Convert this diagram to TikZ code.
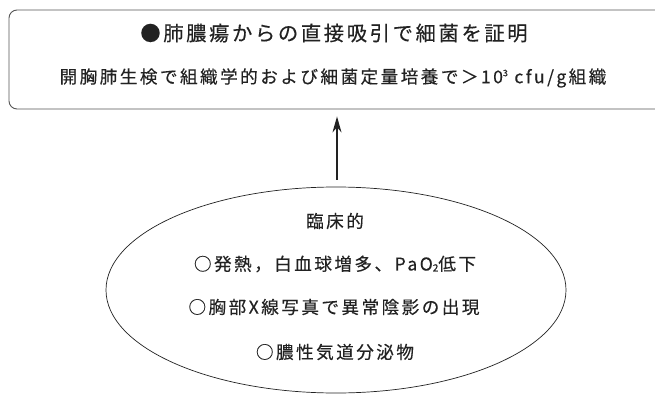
\documentclass[tikz,border=0pt]{standalone}
\usepackage{fontspec}
\usetikzlibrary{arrows.meta,shapes.geometric}
\newfontfamily\jpbig[LetterSpace=13,FakeBold=0.3]{Noto Sans CJK JP}
\newfontfamily\jpmid[LetterSpace=14,FakeBold=0.3]{Noto Sans CJK JP}
\definecolor{ink}{HTML}{222222}
\definecolor{frame}{HTML}{555555}
\tikzset{
  x=1pt,y=1pt,
  titlebox/.style={draw=frame,line width=0.9pt,rounded corners=8pt,inner sep=0pt},
  clinell/.style={draw=ink,line width=0.7pt,ellipse,inner sep=0pt},
  bigtxt/.style={text=ink,inner sep=0pt,font=\jpbig\fontsize{20.3}{22}\selectfont},
  midtxt/.style={text=ink,inner sep=0pt,font=\jpmid\fontsize{17.6}{19}\selectfont},
  uparrow/.style={draw=ink,line width=1.3pt,-{Stealth[length=16pt,width=9pt]}}
}
\begin{document}
\begin{tikzpicture}
\useasboundingbox (0,0) rectangle (655,397);
\fill[white] (0,0) rectangle (655,397);
\node[titlebox,minimum width=656pt,minimum height=99pt] (top) at (337,337.5) {};
\node[bigtxt] (t1) at (334,364) {●肺膿瘍からの直接吸引で細菌を証明};
\node[midtxt] (t2) at (333,319) {開胸肺生検で組織学的および細菌定量培養で＞10\raisebox{7pt}{\fontsize{9}{9}\selectfont 3} cfu/g組織};
\node[clinell,minimum width=460pt,minimum height=206pt] (clin) at (336,107) {};
\node[midtxt] (c0) at (335,176) {臨床的};
\node[midtxt] (c1) at (335,133) {○発熱，白血球増多、PaO\raisebox{-1pt}{\fontsize{10}{10}\selectfont 2}低下};
\node[midtxt] (c2) at (334,90) {○胸部X線写真で異常陰影の出現};
\node[midtxt] (c3) at (335,45) {○膿性気道分泌物};
\draw[uparrow] ([xshift=1pt,yshift=7pt]clin.north) -- ([xshift=1pt,yshift=-7pt]clin.north |- top.south);
\end{tikzpicture}
\end{document}
